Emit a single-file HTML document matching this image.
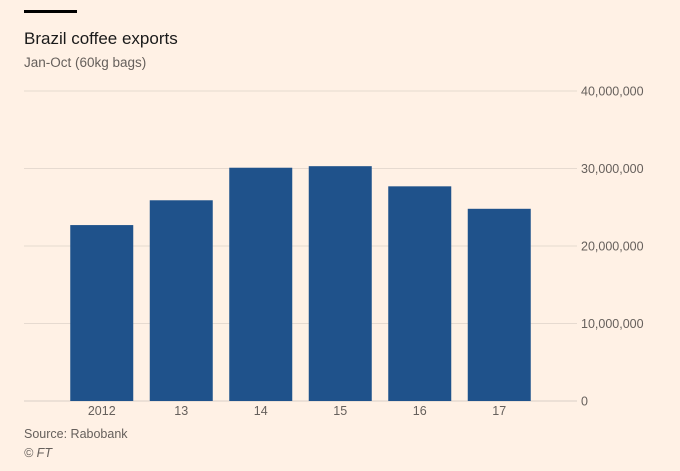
<!DOCTYPE html>
<html><head><meta charset="utf-8"><style>
html,body{margin:0;padding:0;background:#fff1e5;}
body{width:680px;height:466px;overflow:hidden;font-family:"Liberation Sans",sans-serif;}
</style></head><body>
<svg width="680" height="466" xmlns="http://www.w3.org/2000/svg">
<rect x="0" y="0" width="680" height="466" fill="#fff1e5"/>
<rect x="24" y="10" width="53" height="3" fill="#000"/>
<text x="24" y="44" font-size="17" fill="#1a1a1a">Brazil coffee exports</text>
<text x="24" y="67" font-size="13.5" fill="#66605c">Jan-Oct (60kg bags)</text>
<g id="grid"></g>
<g id="bars"></g>
<g id="xlabels"></g>
<text x="24" y="438" font-size="12.5" fill="#66605c">Source: Rabobank</text>
<text x="24" y="457" font-size="12.5" font-style="italic" fill="#66605c">© FT</text>
</svg>
<script>
const categories = ["2012","13","14","15","16","17"];
const values = [22700000,25900000,30100000,30300000,27700000,24800000];
const ticks = [0,10000000,20000000,30000000,40000000];
const tickLabels = ["0","10,000,000","20,000,000","30,000,000","40,000,000"];

const NS="http://www.w3.org/2000/svg";
const y0=401, yTop=91, vMax=40000000;
function yScale(v){return y0-(v/vMax)*(y0-yTop);}
const bandStart=62, step=79.5, barW=63;
function xScale(i){return bandStart+i*step+(step-barW)/2;}
function mk(tag,attrs){const e=document.createElementNS(NS,tag);for(const k in attrs)e.setAttribute(k,attrs[k]);return e;}
const grid=document.getElementById('grid');
ticks.forEach((t,i)=>{
  const y=yScale(t);
  const l=mk('line',{x1:24,x2:577,y1:y,y2:y,stroke:i===0?'#d9cfc6':'#e6dad0','stroke-width':1});
  
  
  grid.appendChild(l);
  const tx=mk('text',{x:581,y:y+4.5,'font-size':12.5,fill:'#66605c'});
  tx.textContent=tickLabels[i];
  
  
  grid.appendChild(tx);
});
const bars=document.getElementById('bars'), xl=document.getElementById('xlabels');
values.forEach((v,i)=>{
  const x=xScale(i), y=yScale(v);
  const r=mk('rect',{x:x,y:y,width:barW,height:y0-y,fill:'#1f528b'});
  
  
  bars.appendChild(r);
  const t=mk('text',{x:x+barW/2,y:415,'font-size':12.5,fill:'#66605c','text-anchor':'middle'});
  t.textContent=categories[i];
  
  
  xl.appendChild(t);
});
</script>
</body></html>
